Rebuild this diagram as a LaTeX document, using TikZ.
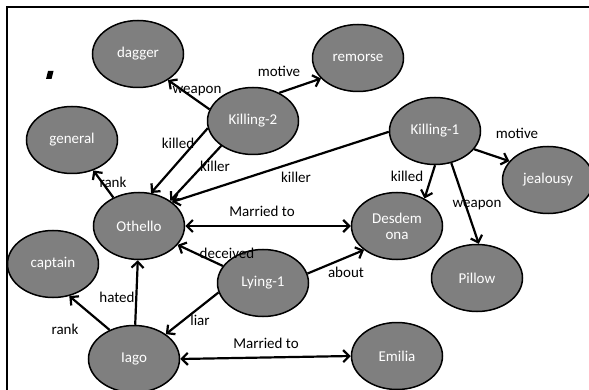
\documentclass[tikz,border=0pt]{standalone}
\usepackage{fontspec}
\setmainfont{Carlito}
\usetikzlibrary{shapes.geometric,arrows.meta}
\definecolor{nodegray}{RGB}{127,127,127}
\tikzset{
  ent/.style={ellipse, draw=black, line width=1.5pt, fill=nodegray, text=white,
    minimum width=91pt, minimum height=67pt, inner sep=0pt, align=center,
    font=\fontsize{15}{16}\selectfont},
  lbl/.style={text=black, inner sep=0pt, font=\fontsize{15}{16}\selectfont},
  rel/.style={line width=2.2pt, -{Straight Barb[length=6pt,width=12pt]}},
  birel/.style={line width=2.2pt, {Straight Barb[length=6pt,width=12pt]}-{Straight Barb[length=6pt,width=12pt]}},
  frame/.style={line width=2.2pt}
}
\begin{document}
\begin{tikzpicture}[x=1pt,y=-1pt]
\useasboundingbox (0,0) rectangle (589,390);
\fill[white] (0,0) rectangle (589,390);
% frame
\coordinate (fa) at (7,7);
\coordinate (fb) at (589,7);
\coordinate (fc) at (7,390);
\draw[frame] (fb) -- (fa) -- (fc);
% stray mark
\fill[black] (48,71) -- (53.5,71) -- (51.5,79) -- (46,79) -- cycle;
% nodes
\node[ent] (dag) at (138,54) {dagger};
\node[ent] (rem) at (358,58) {remorse};
\node[ent] (gen) at (72,140) {general};
\node[ent] (k2) at (253,121) {Killing-2};
\node[ent] (k1) at (435,131) {Killing-1};
\node[ent] (jea) at (548,180) {jealousy};
\node[ent] (oth) at (139,226) {Othello};
\node[ent] (des) at (397,226) {Desdem\\ona};
\node[ent] (cap) at (53,264) {captain};
\node[ent] (lyi) at (263,283) {Lying-1};
\node[ent] (pil) at (477,278) {Pillow};
\node[ent] (iag) at (134,359) {Iago};
\node[ent] (emi) at (397,356) {Emilia};
% edges
\draw[rel] (k2.165) -- (dag.319);
\draw[rel] (k2.47) -- (rem.209);
\draw[rel] (k2.189) -- (oth.70);
\draw[rel] (k2.218) -- (oth.39);
\draw[rel] (k1.181) -- (oth.36);
\draw[rel] (k1.270) -- (des.45);
\draw[rel] (k1.297) -- (pil.87);
\draw[rel] (k1.335) -- (jea.154);
\draw[rel] (oth.132) -- (gen.305);
\draw[birel] (oth.east) -- (des.west);
\draw[rel] (lyi.157) -- (oth.334);
\draw[rel] (lyi.12) -- (des.216);
\draw[rel] (lyi.192) -- (iag.38);
\draw[rel] (iag.88) -- (oth.268);
\draw[rel] (iag.130) -- (cap.297);
\draw[birel] (iag.east) -- (emi.west);
% labels
\node[lbl] (l1) at (197,91) {weapon};
\node[lbl] (l2) at (279,71) {motive};
\node[lbl] (l3) at (178,143) {killed};
\node[lbl] (l4) at (215,166) {killer};
\node[lbl] (l5) at (296,177) {killer};
\node[lbl] (l6) at (407,176) {killed};
\node[lbl] (l7) at (517,133) {motive};
\node[lbl] (l8) at (477,205) {weapon};
\node[lbl] (l9) at (113,182) {rank};
\node[lbl] (l10) at (262,211) {Married to};
\node[lbl] (l11) at (227,253) {deceived};
\node[lbl] (l12) at (346,272) {about};
\node[lbl] (l13) at (200,320) {liar};
\node[lbl] (l14) at (117,297) {hated};
\node[lbl] (l15) at (65,329) {rank};
\node[lbl] (l16) at (266,343) {Married to};
\end{tikzpicture}
\end{document}
